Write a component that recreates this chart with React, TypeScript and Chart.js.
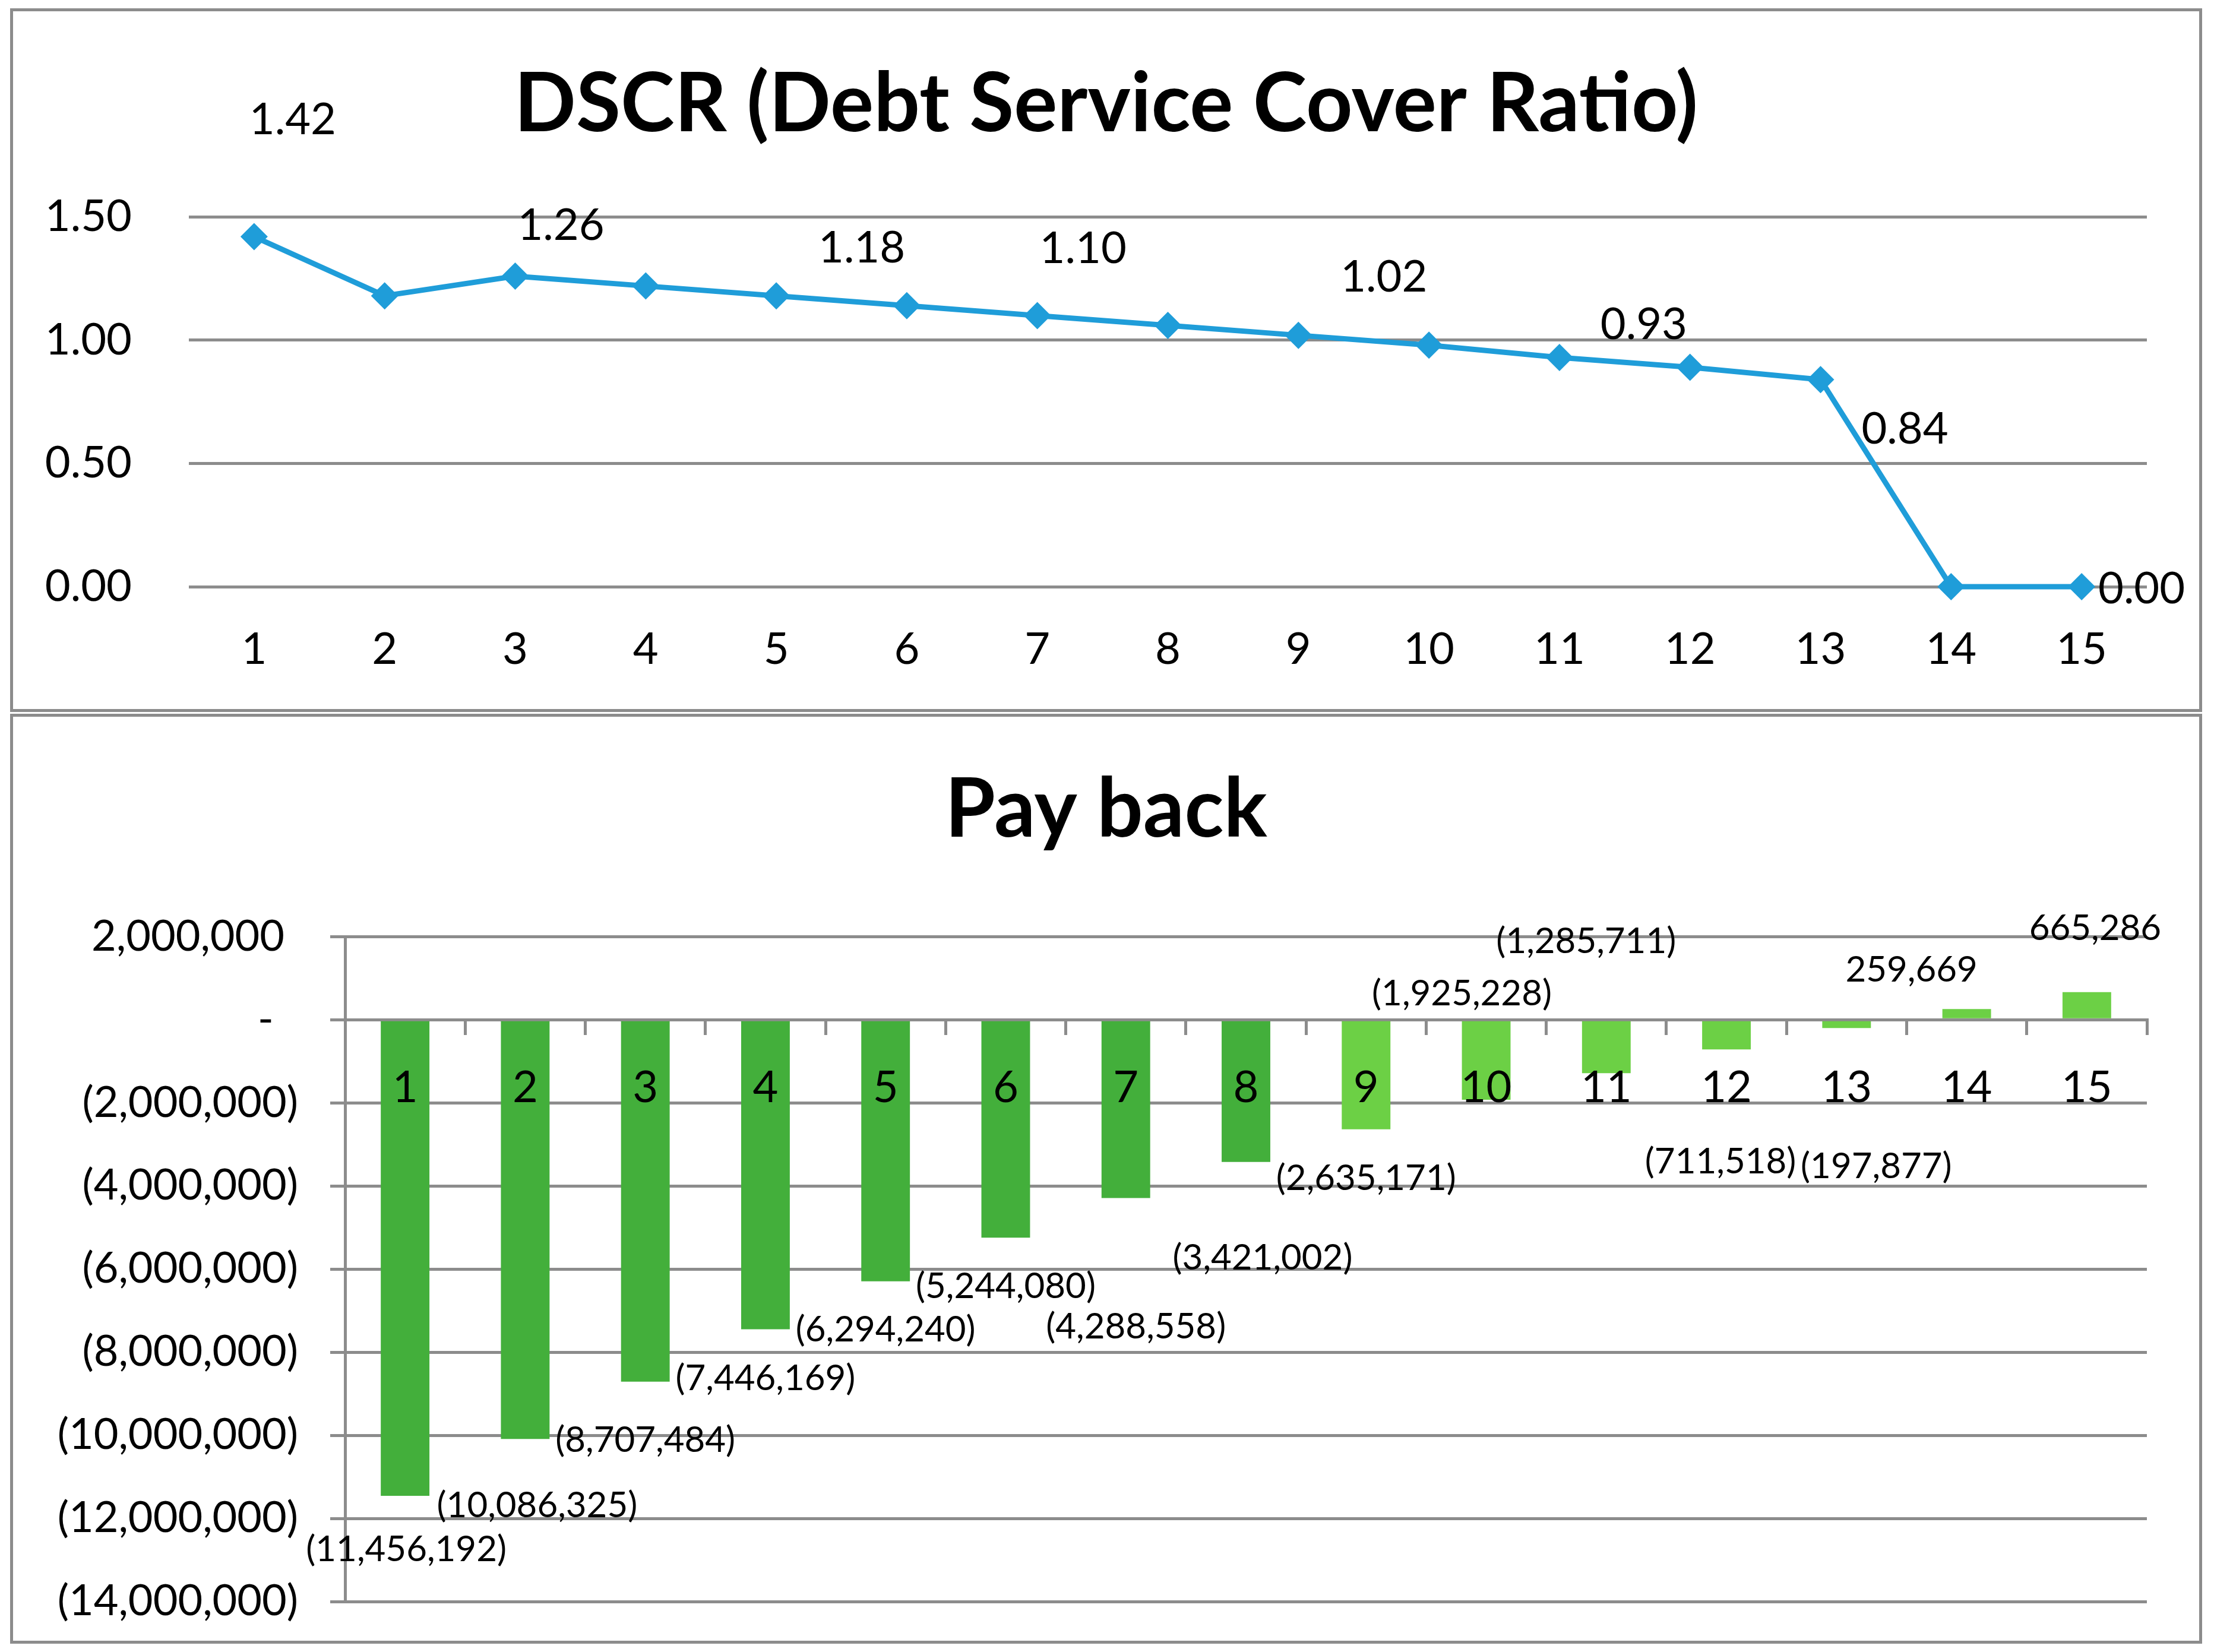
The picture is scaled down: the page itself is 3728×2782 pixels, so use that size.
import { useEffect, useRef } from "react";
import { Chart, registerables } from "chart.js";

Chart.register(...registerables);

const years = ["1", "2", "3", "4", "5", "6", "7", "8", "9", "10", "11", "12", "13", "14", "15"];
const dscrValues = [1.42, 1.18, 1.26, 1.22, 1.18, 1.14, 1.1, 1.06, 1.02, 0.98, 0.93, 0.89, 0.84, 0, 0];
const dscrTicks = [0, 0.5, 1.0, 1.5];
const paybackValues = [
  -11456192, -10086325, -8707484, -7446169, -6294240, -5244080, -4288558, -3421002,
  -2635171, -1925228, -1285711, -711518, -197877, 259669, 665286,
];
const paybackTicks = [
  2000000, 0, -2000000, -4000000, -6000000, -8000000, -10000000, -12000000, -14000000,
];

// where each value label sits, relative to its point / bar end (px); null = no label
const dscrLabelOffsets: ([number, number] | null)[] = [
  [65, -196], null, [77, -85], null, [144, -80], null, [77, -112], null,
  [144, -97], null, [142, -55], null, [142, 84], null, [101, 4],
];
const paybackLabelOffsets: [number, number][] = [
  [2, 91], [20, 113], [0, 99], [0, 83], [0, 82], [0, 82], [17, 217], [28, 162],
  [0, 83], [-41, -178], [-34, -222], [-10, 190], [50, 233], [-93, -66], [14, -107],
];

const FONT = "Lato, 'DejaVu Sans', sans-serif";
const GRID = "#8c8c8c";
const BLUE = "#1f9dd9";
const DARK_GREEN = "#43af3b";
const LIGHT_GREEN = "#6cd045";
const PANEL_W = 3691;
const BORDER = 5;
const RIGHT_GAP = 88;

const fmtMoney = (n: number) => {
  const s = Math.abs(Math.round(n)).toLocaleString("en-US");
  return n < 0 ? `(${s})` : s;
};

// empty axis on the right that only reserves space, so the title stays centred on the panel
const spacerAxis = {
  type: "linear" as const,
  position: "right" as const,
  grid: { display: false, drawTicks: false },
  border: { display: false },
  ticks: { display: false },
  afterFit: (s: any) => {
    s.width = RIGHT_GAP;
    s.paddingTop = 0;
    s.paddingBottom = 0;
  },
};

function makeValueLabels(
  offsets: ([number, number] | null)[],
  format: (v: number) => string,
  size: number
) {
  return {
    id: "valueLabels",
    afterDatasetsDraw(chart: Chart) {
      const { ctx } = chart;
      const meta = chart.getDatasetMeta(0);
      const data = chart.data.datasets[0].data as number[];
      ctx.save();
      ctx.font = `${size}px ${FONT}`;
      ctx.fillStyle = "#000";
      ctx.textAlign = "center";
      ctx.textBaseline = "middle";
      meta.data.forEach((el, i) => {
        const off = offsets[i];
        if (!off) return;
        ctx.fillText(format(data[i]), el.x + off[0], el.y + off[1]);
      });
      ctx.restore();
    },
  };
}

function DscrChart() {
  const ref = useRef<HTMLCanvasElement>(null);

  useEffect(() => {
    if (!ref.current) return;
    const chart = new Chart(ref.current, {
      type: "line",
      data: {
        labels: years,
        datasets: [
          {
            data: dscrValues,
            borderColor: BLUE,
            borderWidth: 9,
            pointStyle: "rectRot",
            pointRadius: 23,
            pointBackgroundColor: BLUE,
            pointBorderWidth: 0,
            tension: 0,
            clip: false,
          },
        ],
      },
      options: {
        responsive: false,
        animation: false,
        layout: { padding: 0 },
        plugins: {
          legend: { display: false },
          tooltip: { enabled: false },
          title: {
            display: true,
            text: "DSCR (Debt Service Cover Ratio)",
            color: "#000",
            font: { family: FONT, size: 137, weight: "bold", lineHeight: 1.2 },
            padding: { top: 76, bottom: 106 },
          },
        },
        scales: {
          x: {
            offset: true,
            grid: { display: false, drawTicks: false },
            border: { display: false },
            ticks: {
              color: "#000",
              font: { family: FONT, size: 74 },
              padding: 62,
              maxRotation: 0,
              autoSkip: false,
            },
            afterFit: (s: any) => {
              s.height = 206;
            },
          },
          y: {
            min: 0,
            max: 1.5,
            grid: { color: GRID, lineWidth: 5, drawTicks: false },
            border: { display: false },
            ticks: {
              color: "#000",
              font: { family: FONT, size: 74 },
              padding: 96,
              callback: (v: any) => Number(v).toFixed(2),
            },
            afterBuildTicks: (s: any) => {
              s.ticks = dscrTicks.map((value) => ({ value }));
            },
            afterFit: (s: any) => {
              s.width = 296;
              s.paddingTop = 0;
              s.paddingBottom = 0;
            },
          },
          spacer: spacerAxis,
        },
      },
      plugins: [makeValueLabels(dscrLabelOffsets, (v) => v.toFixed(2), 74)],
    });
    return () => chart.destroy();
  }, []);

  return (
    <div
      style={{
        position: "absolute",
        left: 17,
        top: 14,
        width: PANEL_W,
        height: 1185,
        border: `${BORDER}px solid ${GRID}`,
        boxSizing: "border-box",
        background: "#fff",
      }}
    >
      <canvas ref={ref} width={3681} height={1175} style={{ display: "block" }} />
    </div>
  );
}

function PaybackChart() {
  const ref = useRef<HTMLCanvasElement>(null);

  useEffect(() => {
    if (!ref.current) return;
    const chart = new Chart(ref.current, {
      type: "bar",
      data: {
        labels: years,
        datasets: [
          {
            data: paybackValues,
            backgroundColor: paybackValues.map((_, i) => (i < 8 ? DARK_GREEN : LIGHT_GREEN)),
            borderWidth: 0,
            barPercentage: 0.405,
            categoryPercentage: 1,
          },
        ],
      },
      options: {
        responsive: false,
        animation: false,
        layout: { padding: { left: 0, right: 0, top: 0, bottom: 66 } },
        plugins: {
          legend: { display: false },
          tooltip: { enabled: false },
          title: {
            display: true,
            text: "Pay back",
            color: "#000",
            font: { family: FONT, size: 137, weight: "bold", lineHeight: 1.2 },
            padding: { top: 76, bottom: 130 },
          },
        },
        scales: {
          x: {
            position: { y: 0 },
            offset: true,
            grid: {
              display: true,
              drawOnChartArea: false,
              drawTicks: true,
              tickLength: 23,
              offset: true,
              color: GRID,
              lineWidth: 5,
            },
            border: { display: true, color: GRID, width: 5 },
            ticks: {
              z: 1,
              color: "#000",
              font: { family: FONT, size: 74 },
              padding: 47,
              maxRotation: 0,
              autoSkip: false,
            },
            afterFit: (s: any) => {
              s.height = 0;
            },
          },
          y: {
            min: -14000000,
            max: 2000000,
            grid: { color: GRID, lineWidth: 5, drawTicks: true, tickLength: 25 },
            border: { display: true, color: GRID, width: 5 },
            ticks: {
              color: "#000",
              font: { family: FONT, size: 72 },
              padding: 54,
              callback: (v: any) => {
                const n = Number(v);
                if (n === 0) return "-  \u200A";
                return n < 0 ? fmtMoney(n) : `${fmtMoney(n)} \u200A`;
              },
            },
            afterBuildTicks: (s: any) => {
              s.ticks = paybackTicks.map((value) => ({ value }));
            },
            afterFit: (s: any) => {
              s.width = 559;
              s.paddingTop = 0;
              s.paddingBottom = 0;
            },
          },
          spacer: spacerAxis,
        },
      },
      plugins: [makeValueLabels(paybackLabelOffsets, fmtMoney, 60)],
    });
    return () => chart.destroy();
  }, []);

  return (
    <div
      style={{
        position: "absolute",
        left: 17,
        top: 1202,
        width: PANEL_W,
        height: 1566,
        border: `${BORDER}px solid ${GRID}`,
        boxSizing: "border-box",
        background: "#fff",
      }}
    >
      <canvas ref={ref} width={3681} height={1556} style={{ display: "block" }} />
    </div>
  );
}

export default function App() {
  return (
    <div
      style={{
        position: "absolute",
        left: 0,
        top: 0,
        width: 3728,
        height: 2782,
        background: "#fff",
      }}
    >
      <DscrChart />
      <PaybackChart />
    </div>
  );
}
